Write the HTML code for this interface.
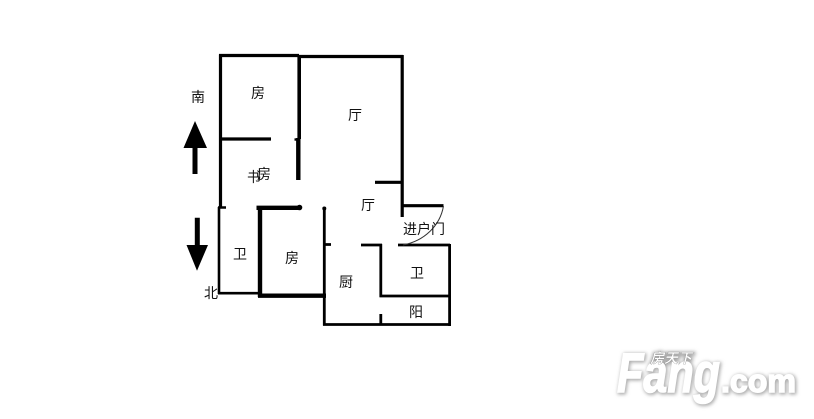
<!DOCTYPE html>
<html><head><meta charset="utf-8"><style>
html,body{margin:0;padding:0;background:#fff;width:814px;height:419px;overflow:hidden}
svg{display:block}
.t{font-family:"WenQuanYi Zen Hei","Noto Sans CJK SC",sans-serif;font-size:14px;fill:#111;text-anchor:middle}
</style></head><body>
<svg width="814" height="419" viewBox="0 0 814 419" xmlns="http://www.w3.org/2000/svg">
<defs><filter id="b" x="-10%" y="-20%" width="120%" height="140%"><feGaussianBlur stdDeviation="1.8"/></filter></defs>
<g stroke="#000" fill="none" stroke-linecap="butt">
<path stroke-width="3.2" d="M220.500 54.500V207M219 55.500H299M299 56.500H403M402.200 55V217M375 182.300H402M402 205.700H443.500M271 139H220"/>
<path stroke-width="3.6" d="M299.200 55V139"/>
<path stroke-width="4.400" d="M298.300 138V180"/>
<path stroke-width="2.400" d="M294.500 139.500H298"/>
<path stroke-width="2.600" d="M219 207V294M218 207.500H226M218 293.200H261"/>
<path stroke-width="4.400" d="M260 207V297M256.500 207.800H300M258 295.700H326"/>
<path stroke-width="2.800" d="M324.300 207V325.500M324 244.500H331M323 324.500H451M449.600 244V326M361 245H382M380.800 244V297M379.500 296H450M398 245H450"/>
<path stroke-width="2.800" d="M380.800 314V325"/>
<path stroke-width="1" stroke="#333" d="M443.500 206C440 226 424 241 403 245"/>
</g>
<circle cx="299.500" cy="207.500" r="2.800"/>
<circle cx="324.300" cy="208.500" r="2"/>
<path d="M195 121L207 148H197.500V174H192.500V148H183.500Z" fill="#000"/>
<path d="M194.800 217.700H199.800V245H208L197 270.700L186.500 245H194.800Z" fill="#000"/>
<text class="t" x="198" y="102">南</text>
<text class="t" x="258" y="98">房</text>
<text class="t" x="355" y="120">厅</text>
<text class="t" x="254" y="182">书</text>
<text class="t" x="264" y="179">房</text>
<text class="t" x="368" y="210">厅</text>
<text class="t" x="240" y="259">卫</text>
<text class="t" x="292" y="263">房</text>
<text class="t" x="211" y="298">北</text>
<text class="t" x="346" y="287">厨</text>
<text class="t" x="417" y="278">卫</text>
<text class="t" x="416" y="317">阳</text>
<text class="t" x="424" y="234">进户门</text>
<g font-family="Liberation Sans, sans-serif" font-weight="bold" font-style="italic">
<g filter="url(#b)" fill="#aaa" stroke="#aaa" stroke-width="3">
<text x="618" y="393" font-size="56" textLength="103" lengthAdjust="spacingAndGlyphs">Fang</text>
<text x="722" y="393" font-size="32" textLength="75" lengthAdjust="spacingAndGlyphs" font-style="normal">.com</text>
<text x="650" y="364" font-size="14" font-family="Noto Sans CJK SC, sans-serif" textLength="42">房天下</text>
</g>
<g fill="#fff" stroke="#fff" stroke-width="1.500">
<text x="617" y="392" font-size="56" textLength="103" lengthAdjust="spacingAndGlyphs">Fang</text>
<text x="721" y="392" font-size="32" textLength="75" lengthAdjust="spacingAndGlyphs" font-style="normal">.com</text>
</g>
<text x="650" y="363" font-size="14" fill="#fff" stroke="#888" stroke-width=".3" font-family="Noto Sans CJK SC, sans-serif" textLength="42">房天下</text>
</g>
</svg>
</body></html>
